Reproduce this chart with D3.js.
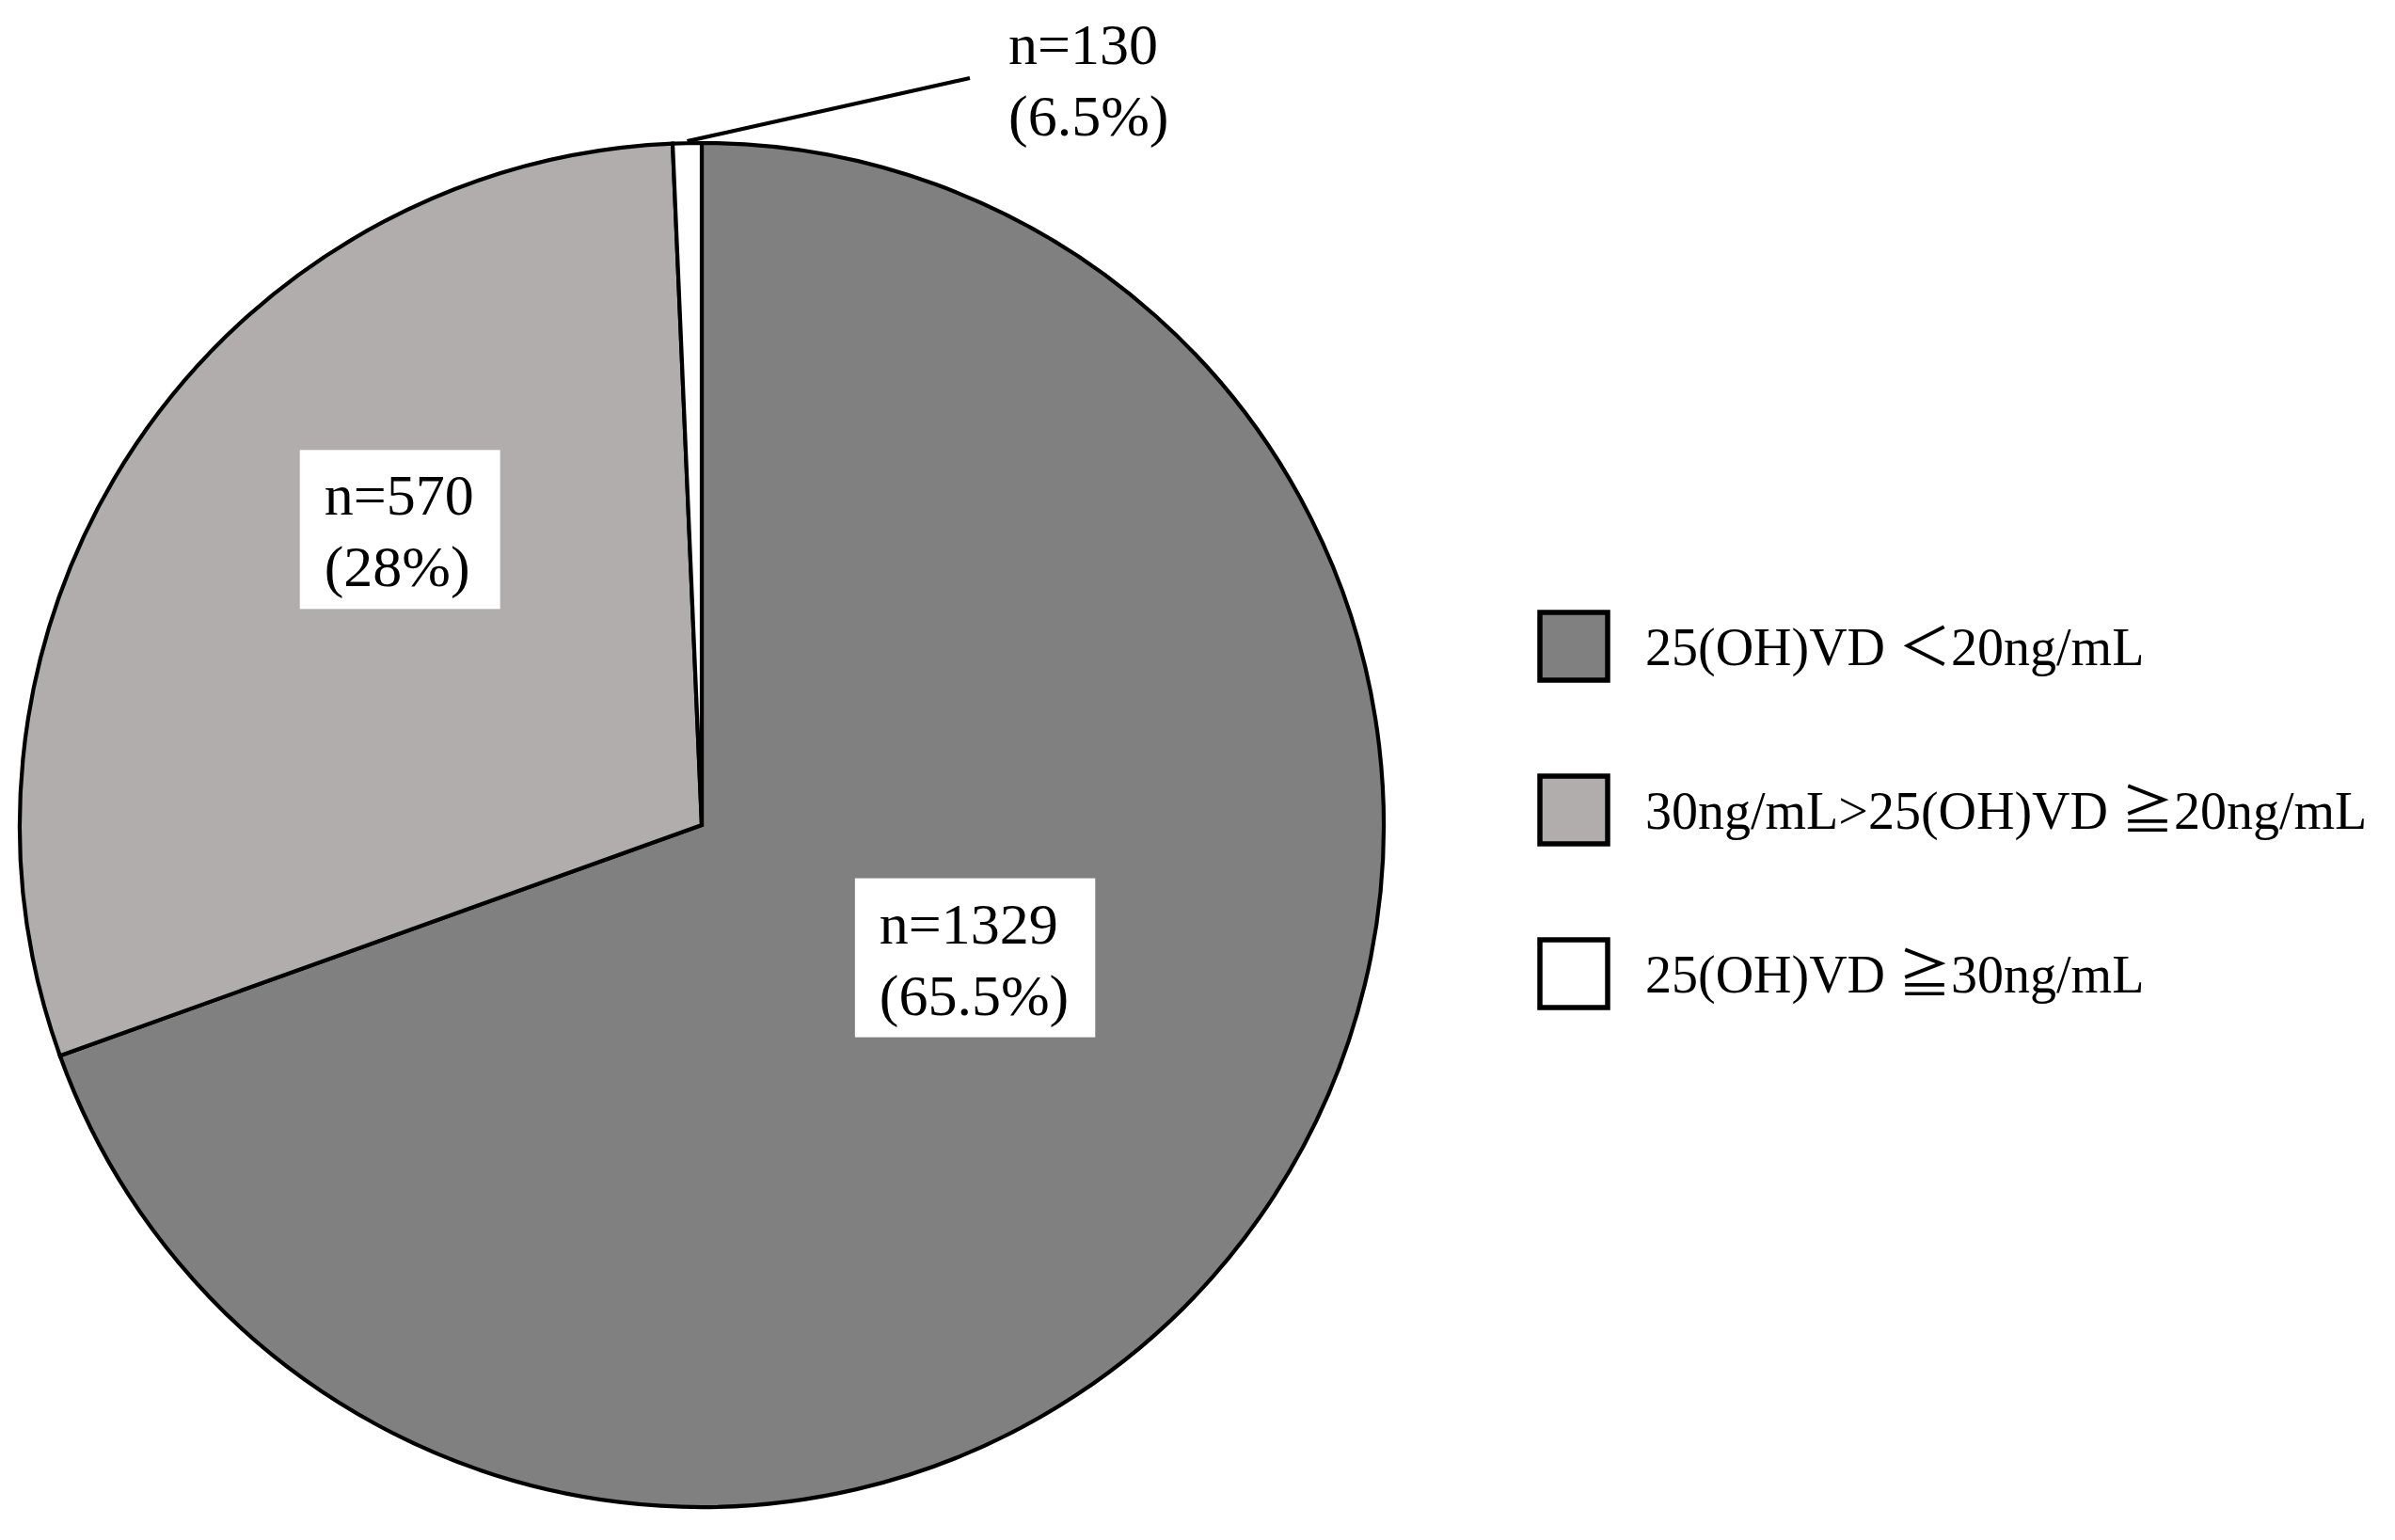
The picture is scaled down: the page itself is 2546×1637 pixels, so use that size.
<!DOCTYPE html>
<html>
<head>
<meta charset="utf-8">
<script src="https://cdn.jsdelivr.net/npm/d3@7"></script>
<style>
  html, body { margin: 0; padding: 0; background: #fff; }
  svg { display: block; }
</style>
</head>
<body>
<svg id="chart" width="2546" height="1637"></svg>
<script>
// ---------------- data ----------------
const categories = ["25(OH)VD \uFF1C20ng/mL", "30ng/mL>25(OH)VD \u226720ng/mL", "25(OH)VD \u226730ng/mL"];
// slice sizes as drawn in the reference (white slice is drawn very thin)
const sliceSizes = [1329, 570, 13];
const labelCounts = [1329, 570, 130];
const labelPercents = ["65.5%", "28%", "6.5%"];
const sliceColors = ["#808080", "#b0adac", "#ffffff"];

// ---------------- layout ----------------
const W = 2546, H = 1637;
const cx = 746, cy = 877, R = 725;
const serif = "'Times New Roman', 'Liberation Serif', 'Noto Sans CJK JP', serif";
const labelFont = 62, legendFont = 56;
// label anchor placement (angle in degrees clockwise from top, radius from centre)
const labelPlace = [
  { angle: 115.9, r: 323, box: true },
  { angle: 314.4, r: 449, box: true },
  { x: 1072, y: 68, box: false }
];

const svg = d3.select("#chart");
svg.append("rect").attr("width", W).attr("height", H).attr("fill", "#fff");

const pie = d3.pie().sort(null).value(d => d)(sliceSizes);
const arc = d3.arc().innerRadius(0).outerRadius(R);

const g = svg.append("g").attr("transform", `translate(${cx},${cy})`);
g.selectAll("path.slice").data(pie).enter().append("path")
  .attr("class", "slice")
  .attr("d", arc)
  .attr("fill", (d, i) => sliceColors[i])
  .attr("stroke", "#000")
  .attr("stroke-width", 4.2)
  .attr("stroke-linejoin", "miter");

// leader line for small slice
const small = pie[2];
const midA = (small.startAngle + small.endAngle) / 2;
const p0 = [R * Math.sin(midA), -R * Math.cos(midA)];
g.append("line")
  .attr("x1", p0[0]).attr("y1", p0[1] - 2)
  .attr("x2", 1031 - cx).attr("y2", 83 - cy)
  .attr("stroke", "#000").attr("stroke-width", 4.2);

// labels
const lineGap = 76;
labelPlace.forEach((lp, i) => {
  const lines = ["n=" + labelCounts[i], "(" + labelPercents[i] + ")"];
  if (lp.box) {
    const a = lp.angle * Math.PI / 180;
    const mx = cx + lp.r * Math.sin(a), my = cy - lp.r * Math.cos(a);
    const grp = svg.append("g");
    const rect = grp.append("rect").attr("fill", "#fff");
    const t = grp.append("text")
      .attr("font-family", serif).attr("font-size", labelFont).attr("fill", "#000");
    lines.forEach((s, k) => {
      t.append("tspan").attr("x", 0).attr("y", k * lineGap).text(s);
    });
    const bb = t.node().getBBox();
    const padL = 26, padR = 28, padT = 14, padB = 10;
    const bw = bb.width + padL + padR, bh = bb.height + padT + padB;
    const bx = mx - bw / 2, by = my - bh / 2;
    rect.attr("x", bx).attr("y", by).attr("width", bw).attr("height", bh);
    t.attr("transform", `translate(${bx + padL - bb.x},${by + padT - bb.y})`);
  } else {
    const t = svg.append("text")
      .attr("font-family", serif).attr("font-size", labelFont).attr("fill", "#000");
    lines.forEach((s, k) => {
      t.append("tspan").attr("x", lp.x).attr("y", lp.y + k * lineGap).text(s);
    });
  }
});

// legend
const legX = 1637, legY0 = 687, legStep = 174, legBox = 72;
const leg = svg.append("g");
categories.forEach((c, i) => {
  const yc = legY0 + i * legStep;
  leg.append("rect")
    .attr("x", legX).attr("y", yc - legBox / 2)
    .attr("width", legBox).attr("height", legBox)
    .attr("fill", sliceColors[i]).attr("stroke", "#000").attr("stroke-width", 5.5);
  leg.append("text")
    .attr("x", legX + 112).attr("y", yc + 20)
    .attr("font-family", serif).attr("font-size", legendFont).attr("fill", "#000")
    .text(c);
});
</script>
</body>
</html>
